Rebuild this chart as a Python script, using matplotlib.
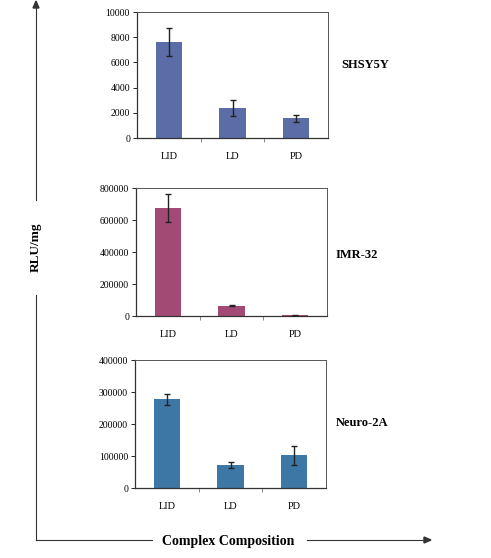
import matplotlib
matplotlib.use("Agg")
import matplotlib.pyplot as plt
from matplotlib.lines import Line2D

categories = ["LID", "LD", "PD"]

shsy5y_vals = [7600, 2350, 1550]
shsy5y_err_lo = [1100, 600, 300]
shsy5y_err_hi = [1100, 650, 250]

imr32_vals = [675000, 65000, 5000]
imr32_err_lo = [90000, 5000, 2000]
imr32_err_hi = [85000, 5000, 2000]

neuro2a_vals = [277000, 73000, 102000]
neuro2a_err_lo = [19000, 10000, 30000]
neuro2a_err_hi = [18000, 8000, 28000]

panel_names = ["SHSY5Y", "IMR-32", "Neuro-2A"]
panel_ymax = [10000, 800000, 400000]
panel_ystep = [2000, 200000, 100000]
panel_colors = ["#5b6ca6", "#a24a74", "#3d77a6"]

W, H = 491, 558
fig = plt.figure(figsize=(W / 100, H / 100), dpi=100)
plt.rcParams["font.family"] = ["Liberation Serif", "DejaVu Serif"]

# axes boxes in pixels: left, top, right, bottom
boxes = [(137, 12, 328, 138), (136, 188, 327, 316), (135, 360, 326, 488)]
label_pos = [(365, 65), (357, 255), (362, 423)]

data = [
    (shsy5y_vals, shsy5y_err_lo, shsy5y_err_hi),
    (imr32_vals, imr32_err_lo, imr32_err_hi),
    (neuro2a_vals, neuro2a_err_lo, neuro2a_err_hi),
]

for i, (vals, elo, ehi) in enumerate(data):
    l, t, r, b = boxes[i]
    ax = fig.add_axes([l / W, 1 - b / H, (r - l) / W, (b - t) / H])
    x = list(range(len(categories)))
    ax.bar(x, vals, width=0.41, color=panel_colors[i], edgecolor="none", zorder=2)
    ax.errorbar(x, vals, yerr=[elo, ehi], fmt="none", ecolor="#222222",
                elinewidth=1.0, capsize=2.2, capthick=1.0, zorder=3)
    ax.set_xlim(-0.5, 2.5)
    ax.set_ylim(0, panel_ymax[i])
    ax.set_yticks(list(range(0, panel_ymax[i] + 1, panel_ystep[i])))
    ax.set_yticklabels([str(v) for v in range(0, panel_ymax[i] + 1, panel_ystep[i])])
    ax.set_xticks([0.5, 1.5], minor=False)
    ax.set_xticklabels([])
    ax.set_xticks(x, minor=True)
    ax.set_xticklabels(categories, minor=True)
    ax.tick_params(axis="x", which="major", direction="out", length=3, width=0.6, color="#777777")
    ax.tick_params(axis="x", which="minor", length=0, pad=10, labelsize=7.5)
    ax.tick_params(axis="y", direction="out", length=3, width=0.6, labelsize=7, pad=2)
    for s in ["top", "right"]:
        ax.spines[s].set_color("#555555")
        ax.spines[s].set_linewidth(0.7)
    for s in ["left", "bottom"]:
        ax.spines[s].set_color("#333333")
        ax.spines[s].set_linewidth(0.9)
    lx, ly = label_pos[i]
    fig.text(lx / W, 1 - ly / H, panel_names[i], ha="center", va="center",
             fontsize=9, fontweight="bold")

# Outer axis arrows (figure coordinates)
def fx(px):
    return px / W

def fy(py):
    return 1 - py / H

lc = "#333333"
# vertical line with gap for label
fig.add_artist(Line2D([fx(36), fx(36)], [fy(540), fy(295)], color=lc, lw=0.8))
fig.add_artist(Line2D([fx(36), fx(36)], [fy(200), fy(6)], color=lc, lw=0.8))
fig.patches.append(plt.Polygon([[fx(36), fy(1)], [fx(33), fy(8)], [fx(39), fy(8)]],
                               closed=True, transform=fig.transFigure, color=lc))
fig.text(fx(36), fy(247), "RLU/mg", rotation=90, ha="center", va="center",
         fontsize=9.5, fontweight="bold")

# horizontal line with gap for label
fig.add_artist(Line2D([fx(36), fx(152)], [fy(540), fy(540)], color=lc, lw=0.8))
fig.add_artist(Line2D([fx(307), fx(424)], [fy(540), fy(540)], color=lc, lw=0.8))
fig.patches.append(plt.Polygon([[fx(431), fy(540)], [fx(424), fy(537)], [fx(424), fy(543)]],
                               closed=True, transform=fig.transFigure, color=lc))
fig.text(fx(228), fy(541), "Complex Composition", ha="center", va="center",
         fontsize=10, fontweight="bold")

fig.savefig("out.png", dpi=100, facecolor="white")
